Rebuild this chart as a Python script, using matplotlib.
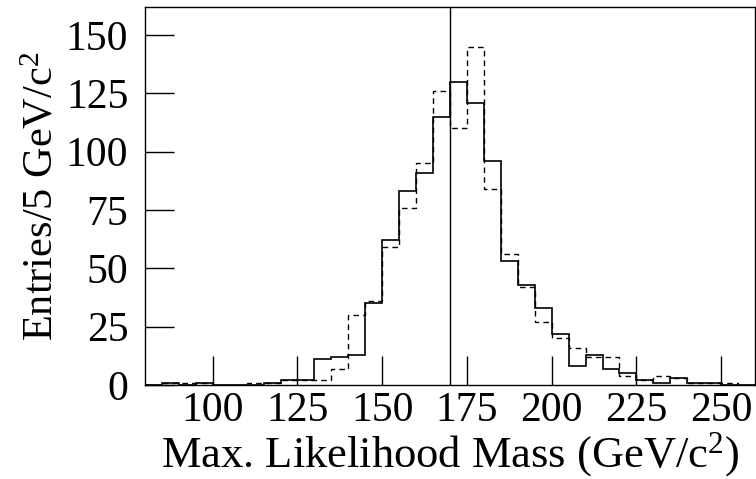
import matplotlib
matplotlib.use('Agg')
import matplotlib.pyplot as plt
import numpy as np

# ---- data: entries per 5 GeV/c^2 bin, 80 .. 260 ----
edges = np.arange(80, 265, 5)
solid = [0, 1, 0, 1, 0, 0, 0, 1, 2, 2, 11, 12, 13, 35, 62, 83, 91, 115,
         130, 121, 96, 53, 43, 33, 22, 8, 13, 7, 5, 2, 1, 3, 1, 1, 0, 0]
dashed = [0, 1, 1, 1, 0, 0, 1, 1, 2, 2, 2, 7, 30, 36, 59, 76, 95, 126,
          110, 145, 84, 56, 42, 27, 20, 16, 12, 12, 4, 2, 4, 3, 1, 1, 1, 0]
mass_line = 170
xticks = [100, 125, 150, 175, 200, 225, 250]
yticks = [0, 25, 50, 75, 100, 125, 150]

plt.rcParams.update({'font.family': 'Liberation Serif',
                     'mathtext.fontset': 'custom',
                     'mathtext.rm': 'Liberation Serif',
                     'mathtext.it': 'Liberation Serif:italic'})

fig = plt.figure(figsize=(7.56, 4.79), dpi=100)
ax = fig.add_axes([145/756, 1 - 385/479, 610/756, 378/479])

ax.stairs(dashed, edges, color='black', lw=1.0, ls=(0, (4, 3)))
ax.stairs(solid, edges, color='black', lw=1.2)
ax.axvline(mass_line, color='black', lw=1.0)

ax.set_xlim(80, 260)
ax.set_ylim(0, 162)
ax.set_xticks(xticks)
ax.set_yticks(yticks)
ax.tick_params(direction='in', length=21, width=1.0, labelsize=30)
ax.tick_params(axis='x', pad=5)
ax.tick_params(axis='y', pad=12)
ax.minorticks_off()
for s in ax.spines.values():
    s.set_linewidth(1.0)

ax.set_xlabel('Max. Likelihood Mass (GeV/c$^{2}$)', fontsize=32, labelpad=0)
ax.set_ylabel('Entries/5 GeV/c$^{2}$', fontsize=30.5, labelpad=3)

fig.savefig('out.png', dpi=100)
